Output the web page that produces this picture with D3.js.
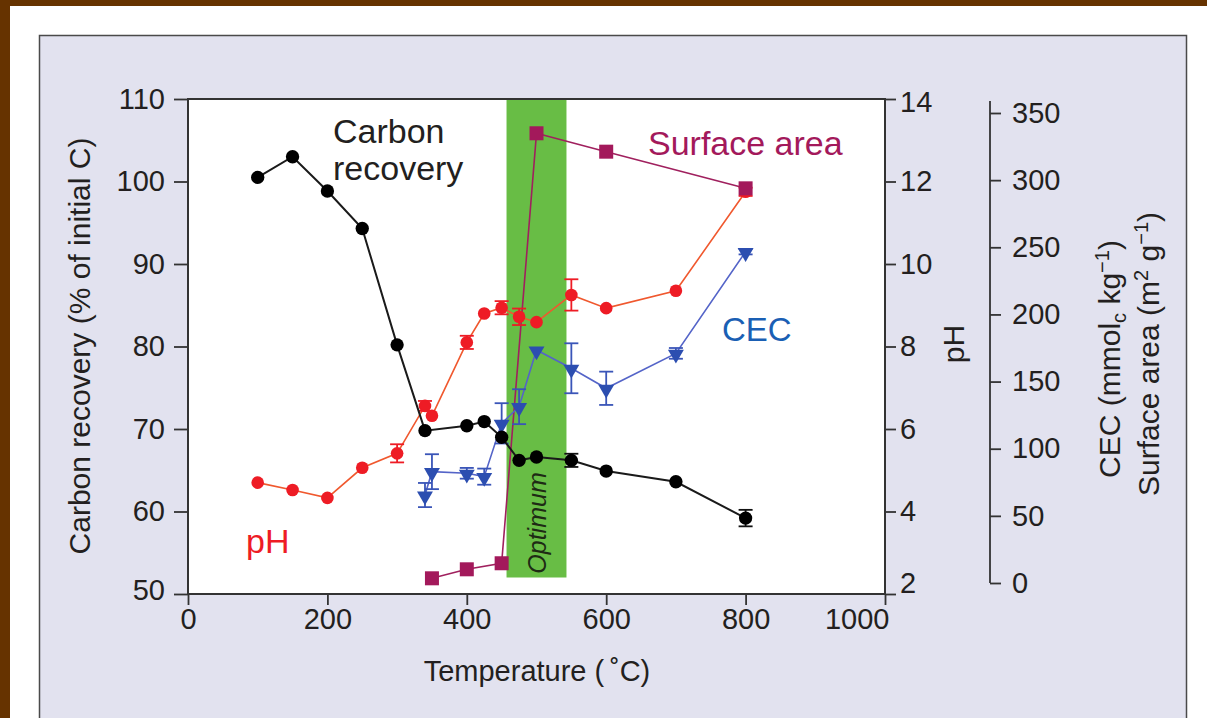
<!DOCTYPE html>
<html>
<head>
<meta charset="utf-8">
<script src="https://cdn.jsdelivr.net/npm/d3@7/dist/d3.min.js"></script>
<style>
  html, body { margin: 0; padding: 0; background: #ffffff; }
  svg { display: block; }
  text { font-family: "Liberation Sans", Arial, Helvetica, sans-serif; fill: #231f20; }
</style>
</head>
<body>
<svg id="chart" width="1207" height="718"></svg>
<script>
// ---------------- DATA ----------------
const carbonTemps   = [100, 150, 200, 250, 300, 340, 400, 425, 450, 475, 500, 550, 600, 700, 800];
const carbonValues  = [100.5, 103.0, 98.85, 94.3, 80.2, 69.8, 70.4, 70.9, 69.0, 66.2, 66.6, 66.2, 64.9, 63.6, 59.2];
const carbonErrors  = [0, 0, 0, 0, 0, 0, 0, 0, 0, 0, 0, 0.8, 0, 0, 1.0];

const phTemps  = [100, 150, 200, 250, 300, 340, 350, 400, 425, 450, 475, 500, 550, 600, 700, 800];
const phValues = [4.70, 4.52, 4.33, 5.06, 5.41, 6.56, 6.32, 8.10, 8.80, 8.94, 8.72, 8.59, 9.25, 8.93, 9.35, 11.75];
const phErrors = [0, 0, 0, 0, 0.22, 0.12, 0, 0.16, 0, 0.16, 0.2, 0, 0.38, 0, 0, 0.1];

const cecTemps  = [340, 350, 400, 425, 450, 475, 500, 550, 600, 700, 800];
const cecValues = [65.5, 82.9, 81.7, 79.2, 118.9, 131.3, 173.5, 159.9, 145.0, 171.0, 246.7];
const cecErrors = [9, 13, 4, 6, 15, 13, 0, 18.6, 12.4, 4, 2];

const areaTemps  = [350, 400, 450, 500, 600, 800];
const areaValues = [3.5, 10.2, 14.7, 334.9, 321.2, 293.9];

const optimumRange = [457, 543];      // temperature span of the "Optimum" band
const optimumBottom = 52;             // band bottom, on carbon-recovery axis

const xTicks      = [0, 200, 400, 600, 800, 1000];
const carbonTicks = [50, 60, 70, 80, 90, 100, 110];
const phTicks     = [2, 4, 6, 8, 10, 12, 14];
const cecTicks    = [0, 50, 100, 150, 200, 250, 300, 350];

// ---------------- LAYOUT ----------------
const svg = d3.select("#chart");
const W = 1207, H = 718;
const plot = { left: 188, right: 885, top: 99, bottom: 594 };

// brown frame
svg.append("rect").attr("x", 0).attr("y", 0).attr("width", W).attr("height", 6).attr("fill", "#663300");
svg.append("rect").attr("x", 0).attr("y", 0).attr("width", 10).attr("height", H).attr("fill", "#663300");
// lavender panel
svg.append("rect").attr("x", 39.5).attr("y", 35.5).attr("width", 1147).attr("height", 720)
  .attr("fill", "#e2e2ef").attr("stroke", "#4a4a4a").attr("stroke-width", 1.5);
// white plot area
svg.append("rect").attr("x", plot.left).attr("y", plot.top)
  .attr("width", plot.right - plot.left).attr("height", plot.bottom - plot.top).attr("fill", "#ffffff");

// ---------------- SCALES ----------------
const x = d3.scaleLinear().domain([0, 1000]).range([plot.left, plot.right]);
const yC = d3.scaleLinear().domain([50, 110]).range([plot.bottom, plot.top]);
const yPH = d3.scaleLinear().domain([2, 14]).range([plot.bottom, plot.top]);
const yCEC = d3.scaleLinear().domain([0, 350]).range([583, 113]);

// ---------------- OPTIMUM BAND ----------------
svg.append("rect")
  .attr("x", x(optimumRange[0])).attr("y", plot.top)
  .attr("width", x(optimumRange[1]) - x(optimumRange[0]))
  .attr("height", yC(optimumBottom) - plot.top)
  .attr("fill", "#68bd45");
svg.append("text")
  .attr("transform", `translate(${x((optimumRange[0] + optimumRange[1]) / 2) + 9},${523}) rotate(-90)`)
  .attr("text-anchor", "middle")
  .style("font-size", "25px").style("font-style", "italic").style("fill", "#1e2a14")
  .text("Optimum");

// ---------------- AXES ----------------
const fontTick = "29px";
function styleAxis(g) {
  g.selectAll(".domain").remove();
  g.selectAll(".tick line").attr("stroke", "#333").attr("stroke-width", 1.8);
  g.selectAll(".tick text").style("font-size", fontTick).style("fill", "#231f20")
    .style("font-family", '"Liberation Sans", Arial, sans-serif');
}

const xAxisG = svg.append("g").attr("transform", `translate(0,${plot.bottom})`)
  .call(d3.axisBottom(x).tickValues(xTicks).tickSize(11).tickPadding(3).tickFormat(d3.format("d")))
  .call(styleAxis);
// last label sits left of its tick, as in the reference
xAxisG.selectAll(".tick").filter(d => d === 1000).select("text")
  .attr("text-anchor", "end").attr("x", 4);

const yAxisG = svg.append("g").attr("transform", `translate(${plot.left},0)`)
  .call(d3.axisLeft(yC).tickValues(carbonTicks).tickSize(14).tickPadding(9))
  .call(styleAxis);
yAxisG.selectAll(".tick").filter(d => d === 50).select("text").attr("y", -4);

const phAxisG = svg.append("g").attr("transform", `translate(${plot.right},0)`)
  .call(d3.axisRight(yPH).tickValues(phTicks).tickSize(11).tickPadding(4))
  .call(styleAxis);
phAxisG.selectAll(".tick").filter(d => d === 2).select("text").attr("y", -11);
phAxisG.selectAll(".tick").filter(d => d === 14).select("text").attr("y", 3);

const cecAxisX = 990;
svg.append("g").attr("transform", `translate(${cecAxisX},0)`)
  .call(d3.axisRight(yCEC).tickValues(cecTicks).tickSize(11).tickPadding(11))
  .call(styleAxis);
svg.append("line").attr("x1", cecAxisX).attr("x2", cecAxisX).attr("y1", 101).attr("y2", yCEC(0))
  .attr("stroke", "#333").attr("stroke-width", 1.8);

// plot frame
svg.append("rect").attr("x", plot.left).attr("y", plot.top)
  .attr("width", plot.right - plot.left).attr("height", plot.bottom - plot.top)
  .attr("fill", "none").attr("stroke", "#333").attr("stroke-width", 2);

// ---------------- AXIS TITLES ----------------
svg.append("text").attr("x", 537).attr("y", 681).attr("text-anchor", "middle")
  .style("font-size", "29px").text("Temperature (\u2009\u02DAC)");
svg.append("text").attr("transform", "translate(90,346) rotate(-90)").attr("text-anchor", "middle")
  .style("font-size", "30px").text("Carbon recovery (% of initial C)");
svg.append("text").attr("transform", "translate(964,344) rotate(-90)").attr("text-anchor", "middle")
  .style("font-size", "30px").text("pH");

const cecTitle = svg.append("text").attr("transform", "translate(1120,359) rotate(-90)")
  .attr("text-anchor", "middle").style("font-size", "30px");
cecTitle.append("tspan").text("CEC (mmol");
cecTitle.append("tspan").attr("dy", 6).style("font-size", "20px").text("c");
cecTitle.append("tspan").attr("dy", -6).text(" kg");
cecTitle.append("tspan").attr("dy", -11).style("font-size", "20px").text("\u22121");
cecTitle.append("tspan").attr("dy", 11).text(")");

const areaTitle = svg.append("text").attr("transform", "translate(1159,354) rotate(-90)")
  .attr("text-anchor", "middle").style("font-size", "30px");
areaTitle.append("tspan").text("Surface area (m");
areaTitle.append("tspan").attr("dy", -11).style("font-size", "20px").text("2");
areaTitle.append("tspan").attr("dy", 11).text(" g");
areaTitle.append("tspan").attr("dy", -11).style("font-size", "20px").text("\u22121");
areaTitle.append("tspan").attr("dy", 11).text(")");

// ---------------- SERIES ----------------
function zipSeries(ts, vs, es) { return ts.map((t, i) => ({ t, v: vs[i], e: es ? es[i] : 0 })); }
const carbon = zipSeries(carbonTemps, carbonValues, carbonErrors);
const ph = zipSeries(phTemps, phValues, phErrors);
const cec = zipSeries(cecTemps, cecValues, cecErrors);
const area = zipSeries(areaTemps, areaValues, null);

function drawLine(data, yS, color, width) {
  svg.append("path").datum(data)
    .attr("fill", "none").attr("stroke", color).attr("stroke-width", width)
    .attr("d", d3.line().x(d => x(d.t)).y(d => yS(d.v)));
}
function drawErrors(data, yS, color) {
  const g = svg.append("g").attr("stroke", color).attr("stroke-width", 1.8);
  data.filter(d => d.e > 0).forEach(d => {
    const cx = x(d.t), y1 = yS(d.v - d.e), y2 = yS(d.v + d.e);
    g.append("line").attr("x1", cx).attr("x2", cx).attr("y1", y1).attr("y2", y2);
    g.append("line").attr("x1", cx - 7).attr("x2", cx + 7).attr("y1", y1).attr("y2", y1);
    g.append("line").attr("x1", cx - 7).attr("x2", cx + 7).attr("y1", y2).attr("y2", y2);
  });
}

// surface area
drawLine(area, yCEC, "#a0205e", 1.6);
// pH
drawLine(ph, yPH, "#f0582e", 1.6);
drawErrors(ph, yPH, "#ee1c25");
svg.append("g").selectAll("path").data(ph).join("path")
  .attr("transform", d => `translate(${x(d.t)},${yPH(d.v)})`)
  .attr("d", d3.symbol(d3.symbolCircle, 125)())
  .attr("fill", "#ee1c25");
// CEC
drawLine(cec, yCEC, "#5464c8", 1.6);
drawErrors(cec, yCEC, "#3a55b8");
svg.append("g").selectAll("path").data(cec).join("path")
  .attr("transform", d => `translate(${x(d.t)},${yCEC(d.v) + 1}) rotate(180)`)
  .attr("d", d3.symbol(d3.symbolTriangle, 110)())
  .attr("fill", "#2c4eb0");
// carbon recovery
drawLine(carbon, yC, "#1a1a1a", 2);
drawErrors(carbon, yC, "#111");
svg.append("g").selectAll("path").data(carbon).join("path")
  .attr("transform", d => `translate(${x(d.t)},${yC(d.v)})`)
  .attr("d", d3.symbol(d3.symbolCircle, 140)())
  .attr("fill", "#000");
// surface area markers
svg.append("g").selectAll("rect").data(area).join("rect")
  .attr("x", d => x(d.t) - 7).attr("y", d => yCEC(d.v) - 7)
  .attr("width", 14).attr("height", 14).attr("fill", "#a3195b");

// ---------------- SERIES LABELS ----------------
svg.append("text").attr("x", 333).attr("y", 143).style("font-size", "34px").text("Carbon");
svg.append("text").attr("x", 333).attr("y", 180).style("font-size", "34px").text("recovery");
svg.append("text").attr("x", 648).attr("y", 155).style("font-size", "34px").style("fill", "#a3195b").text("Surface area");
svg.append("text").attr("x", 722).attr("y", 341).style("font-size", "33px").style("fill", "#1a5fb4").text("CEC");
svg.append("text").attr("x", 246).attr("y", 553).style("font-size", "34px").style("fill", "#ee1c25").text("pH");
</script>
</body>
</html>
